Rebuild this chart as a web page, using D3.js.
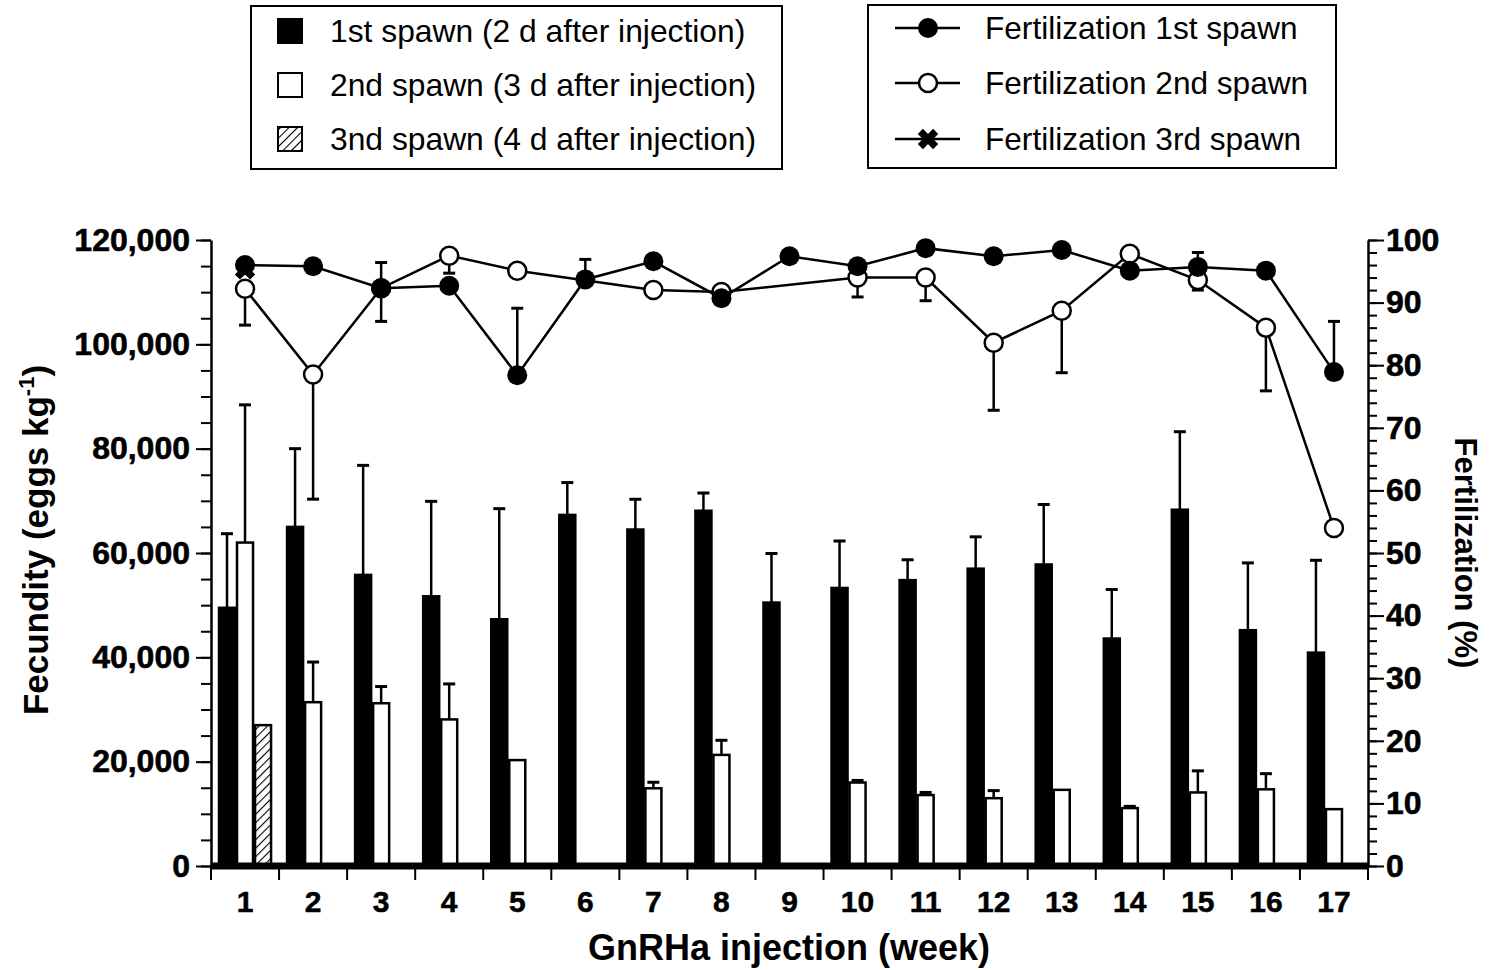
<!DOCTYPE html>
<html>
<head>
<meta charset="utf-8">
<script src="https://cdn.jsdelivr.net/npm/d3@7"></script>
<style>
  body { margin: 0; background: #fff; }
  text { font-family: "Liberation Sans", Arial, Helvetica, sans-serif; fill: #000; }
</style>
</head>
<body>
<svg width="1501" height="970"></svg>
<script>
// weeks of GnRHa injection
const weeks = ['1','2','3','4','5','6','7','8','9','10','11','12','13','14','15','16','17'];

// fecundity (eggs kg-1), bars + upper error
const spawn1 = [49500, 65000, 55800, 51700, 47300, 67300, 64500, 68100, 50500, 53300, 54800, 57000, 57800, 43600, 68300, 45200, 40900];
const spawn1Err = [14200, 15000, 21000, 18200, 21200, 6200, 5800, 3400, 9400, 9000, 3900, 6100, 11500, 9400, 14950, 12900, 17700];
const spawn2 = [62000, 31400, 31200, 28100, 20300, null, 14900, 21300, null, 16000, 13600, 13000, 14600, 11100, 14100, 14700, 10900];
const spawn2Err = [26400, 7700, 3200, 6800, 0, null, 1150, 2800, null, 400, 500, 1450, 0, 330, 4140, 3000, 0];
const spawn3 = [27000, null, null, null, null, null, null, null, null, null, null, null, null, null, null, null, null];
const spawn3Err = [0, null, null, null, null, null, null, null, null, null, null, null, null, null, null, null, null];

// fertilization (%)
const fert1 = [96.0, 95.8, 92.3, 92.7, 78.4, 93.7, 96.6, 90.7, 97.4, 95.8, 98.7, 97.4, 98.4, 95.1, 95.7, 95.1, 78.9];
const fert1Err = [0, 0, 4.1, 0, 10.7, 3.2, 0, 0, 0, 0, 0, 0, 0, 0, 2.3, 0, 8.1]; // drawn upward
const fert2 = [92.2, 78.5, 92.3, 97.5, 95.1, null, 92.0, 91.7, null, 94.0, 94.0, 83.6, 88.7, 97.8, 93.6, 86.0, 54.0];
const fert2Err = [5.8, 19.9, 5.3, 2.8, 0, null, 0.8, 0, null, 3.1, 3.7, 10.8, 9.9, 0, 1.6, 10.1, 0.6]; // drawn downward
const fert3 = [95.3, null, null, null, null, null, null, null, null, null, null, null, null, null, null, null, null];

const leftLegend = ['1st spawn (2 d after injection)', '2nd spawn (3 d after injection)', '3nd spawn (4 d after injection)'];
const rightLegend = ['Fertilization 1st spawn', 'Fertilization 2nd spawn', 'Fertilization 3rd spawn'];

const svg = d3.select('svg');
const plotLeft = 211, plotRight = 1368, plotTop = 240, plotBottom = 866;

// hatch pattern for the 3rd spawn
const defs = svg.append('defs');
defs.append('pattern')
  .attr('id', 'hatch')
  .attr('patternUnits', 'userSpaceOnUse')
  .attr('width', 6).attr('height', 6)
  .attr('patternTransform', 'rotate(45)')
  .call(p => {
    p.append('rect').attr('width', 6).attr('height', 6).attr('fill', '#fff');
    p.append('line').attr('x1', 0).attr('y1', 0).attr('x2', 0).attr('y2', 6)
      .attr('stroke', '#000').attr('stroke-width', 2.2);
  });

const x = d3.scaleBand().domain(weeks).range([plotLeft, plotRight]);
const bw = x.bandwidth();
const xs = d3.scaleBand().domain([0, 1, 2]).range([bw * 0.103, bw * 0.897]);
const yL = d3.scaleLinear().domain([0, 120000]).range([plotBottom, plotTop]);
const yR = d3.scaleLinear().domain([0, 100]).range([plotBottom, plotTop]);

// bars
const barSeries = [
  { vals: spawn1, err: spawn1Err, fill: '#000', stroke: '#000' },
  { vals: spawn2, err: spawn2Err, fill: '#fff', stroke: '#000' },
  { vals: spawn3, err: spawn3Err, fill: 'url(#hatch)', stroke: '#000' }
];
const barG = svg.append('g');
barSeries.forEach((s, i) => {
  weeks.forEach((w, j) => {
    const v = s.vals[j];
    if (v == null) return;
    const x0 = x(w) + xs(i);
    const cx = x0 + xs.bandwidth() / 2;
    if (s.err[j] > 0) {
      barG.append('line')
        .attr('x1', cx).attr('x2', cx)
        .attr('y1', yL(v)).attr('y2', yL(v + s.err[j]))
        .attr('stroke', '#000').attr('stroke-width', 2.5);
      barG.append('line')
        .attr('x1', cx - 6).attr('x2', cx + 6)
        .attr('y1', yL(v + s.err[j])).attr('y2', yL(v + s.err[j]))
        .attr('stroke', '#000').attr('stroke-width', 3);
    }
    barG.append('rect')
      .attr('x', x0 + 1).attr('y', yL(v))
      .attr('width', xs.bandwidth() - 2).attr('height', plotBottom - yL(v))
      .attr('fill', s.fill)
      .attr('stroke', s.stroke).attr('stroke-width', 2.5);
  });
});

// x axis baseline + boundary ticks
svg.append('line')
  .attr('x1', plotLeft).attr('x2', plotRight).attr('y1', plotBottom).attr('y2', plotBottom)
  .attr('stroke', '#000').attr('stroke-width', 7);
d3.range(weeks.length + 1).forEach(i => {
  const tx = plotLeft + i * x.step();
  svg.append('line')
    .attr('x1', tx).attr('x2', tx).attr('y1', plotBottom).attr('y2', plotBottom + 14)
    .attr('stroke', '#000').attr('stroke-width', 2);
});
svg.append('g').selectAll('text')
  .data(weeks)
  .join('text')
  .attr('x', d => x(d) + bw / 2)
  .attr('y', 912)
  .attr('text-anchor', 'middle')
  .attr('font-size', 30)
  .attr('font-weight', 'bold')
  .attr('stroke', '#000').attr('stroke-width', 0.5)
  .text(d => d);

// left axis
const leftAxis = svg.append('g').attr('transform', `translate(${plotLeft},0)`);
leftAxis.call(d3.axisLeft(yL).tickValues(d3.range(0, 120001, 5000)).tickSize(10).tickFormat(''))
  .call(g => g.select('.domain').remove());
leftAxis.append('g')
  .call(d3.axisLeft(yL).tickValues(d3.range(0, 120001, 20000)).tickSize(15).tickPadding(6)
    .tickFormat(d3.format(',')).tickSizeOuter(0));
leftAxis.selectAll('line').attr('stroke-width', 2);
leftAxis.selectAll('.domain').attr('stroke-width', 2.5);
leftAxis.selectAll('text').attr('font-size', 32).attr('font-weight', 'bold')
  .attr('stroke', '#000').attr('stroke-width', 0.6)
  .attr('font-family', '"Liberation Sans", Arial, sans-serif');

// right axis
const rightAxis = svg.append('g').attr('transform', `translate(${plotRight},0)`);
rightAxis.call(d3.axisRight(yR).tickValues(d3.range(0, 101, 2)).tickSize(9).tickFormat(''))
  .call(g => g.select('.domain').remove());
rightAxis.append('g')
  .call(d3.axisRight(yR).tickValues(d3.range(0, 101, 10)).tickSize(16).tickPadding(2)
    .tickSizeOuter(0));
rightAxis.selectAll('line').attr('stroke-width', 2);
rightAxis.selectAll('.domain').attr('stroke-width', 2.5);
rightAxis.selectAll('text').attr('font-size', 32).attr('font-weight', 'bold')
  .attr('stroke', '#000').attr('stroke-width', 0.6)
  .attr('font-family', '"Liberation Sans", Arial, sans-serif');

// fertilization lines
const pts = (vals) => weeks.map((w, j) => ({ x: x(w) + bw / 2, v: vals[j] })).filter(d => d.v != null);
const line = d3.line().x(d => d.x).y(d => yR(d.v));
const lineG = svg.append('g');
[fert1, fert2].forEach(vals => {
  lineG.append('path')
    .attr('d', line(pts(vals)))
    .attr('fill', 'none').attr('stroke', '#000').attr('stroke-width', 2.5);
});

// fertilization error bars
const errG = svg.append('g');
function errBar(cx, v, e) {
  errG.append('line').attr('x1', cx).attr('x2', cx).attr('y1', yR(v)).attr('y2', yR(e))
    .attr('stroke', '#000').attr('stroke-width', 2.5);
  errG.append('line').attr('x1', cx - 6).attr('x2', cx + 6).attr('y1', yR(e)).attr('y2', yR(e))
    .attr('stroke', '#000').attr('stroke-width', 3);
}
weeks.forEach((w, j) => {
  const cx = x(w) + bw / 2;
  if (fert1Err[j] > 0) errBar(cx, fert1[j], fert1[j] + fert1Err[j]);
  if (fert2[j] != null && fert2Err[j] > 0) errBar(cx, fert2[j], fert2[j] - fert2Err[j]);
});

// markers
const cross = d3.symbol().type(d3.symbolCross).size(260);
const markG = svg.append('g');
markG.selectAll('path.x3')
  .data(pts(fert3))
  .join('path')
  .attr('class', 'x3')
  .attr('d', cross)
  .attr('transform', d => `translate(${d.x},${yR(d.v)}) rotate(45)`)
  .attr('fill', '#000');
markG.selectAll('circle.open')
  .data(pts(fert2))
  .join('circle')
  .attr('class', 'open')
  .attr('cx', d => d.x).attr('cy', d => yR(d.v)).attr('r', 9)
  .attr('fill', '#fff').attr('stroke', '#000').attr('stroke-width', 2.5);
markG.selectAll('circle.filled')
  .data(pts(fert1))
  .join('circle')
  .attr('class', 'filled')
  .attr('cx', d => d.x).attr('cy', d => yR(d.v)).attr('r', 10)
  .attr('fill', '#000');

// axis titles
svg.append('text')
  .attr('transform', `translate(48,540) rotate(-90)`)
  .attr('text-anchor', 'middle')
  .attr('font-size', 35).attr('font-weight', 'bold')
  .call(t => {
    t.append('tspan').text('Fecundity (eggs kg');
    t.append('tspan').attr('dy', -14).attr('font-size', 22).text('-1');
    t.append('tspan').attr('dy', 14).text(')');
  });
svg.append('text')
  .attr('transform', `translate(1455,553) rotate(90)`)
  .attr('text-anchor', 'middle')
  .attr('font-size', 31).attr('font-weight', 'bold')
  .text('Fertilization (%)');
svg.append('text')
  .attr('x', 789).attr('y', 960)
  .attr('text-anchor', 'middle')
  .attr('font-size', 36).attr('font-weight', 'bold')
  .text('GnRHa injection (week)');

// left legend
const rowsY = [31, 85, 139];
svg.append('rect').attr('x', 251).attr('y', 6).attr('width', 531).attr('height', 163)
  .attr('fill', 'none').attr('stroke', '#000').attr('stroke-width', 2);
const swFill = ['#000', '#fff', 'url(#hatch)'];
leftLegend.forEach((t, i) => {
  svg.append('rect').attr('x', 278).attr('y', rowsY[i] - 12).attr('width', 24).attr('height', 24)
    .attr('fill', swFill[i]).attr('stroke', '#000').attr('stroke-width', 2);
  svg.append('text').attr('x', 330).attr('y', rowsY[i] + 11).attr('font-size', 31.8).text(t);
});

// right legend
const rowsY2 = [28, 83, 139];
svg.append('rect').attr('x', 868).attr('y', 5).attr('width', 468).attr('height', 163)
  .attr('fill', 'none').attr('stroke', '#000').attr('stroke-width', 2);
rightLegend.forEach((t, i) => {
  const ly = rowsY2[i];
  svg.append('line').attr('x1', 895).attr('x2', 960).attr('y1', ly).attr('y2', ly)
    .attr('stroke', '#000').attr('stroke-width', 2.5);
  if (i === 0) {
    svg.append('circle').attr('cx', 928).attr('cy', ly).attr('r', 10).attr('fill', '#000');
  } else if (i === 1) {
    svg.append('circle').attr('cx', 928).attr('cy', ly).attr('r', 9)
      .attr('fill', '#fff').attr('stroke', '#000').attr('stroke-width', 2.5);
  } else {
    svg.append('path').attr('d', cross).attr('transform', `translate(928,${ly}) rotate(45)`).attr('fill', '#000');
  }
  svg.append('text').attr('x', 985).attr('y', ly + 11).attr('font-size', 31.6).text(t);
});
</script>
</body>
</html>
